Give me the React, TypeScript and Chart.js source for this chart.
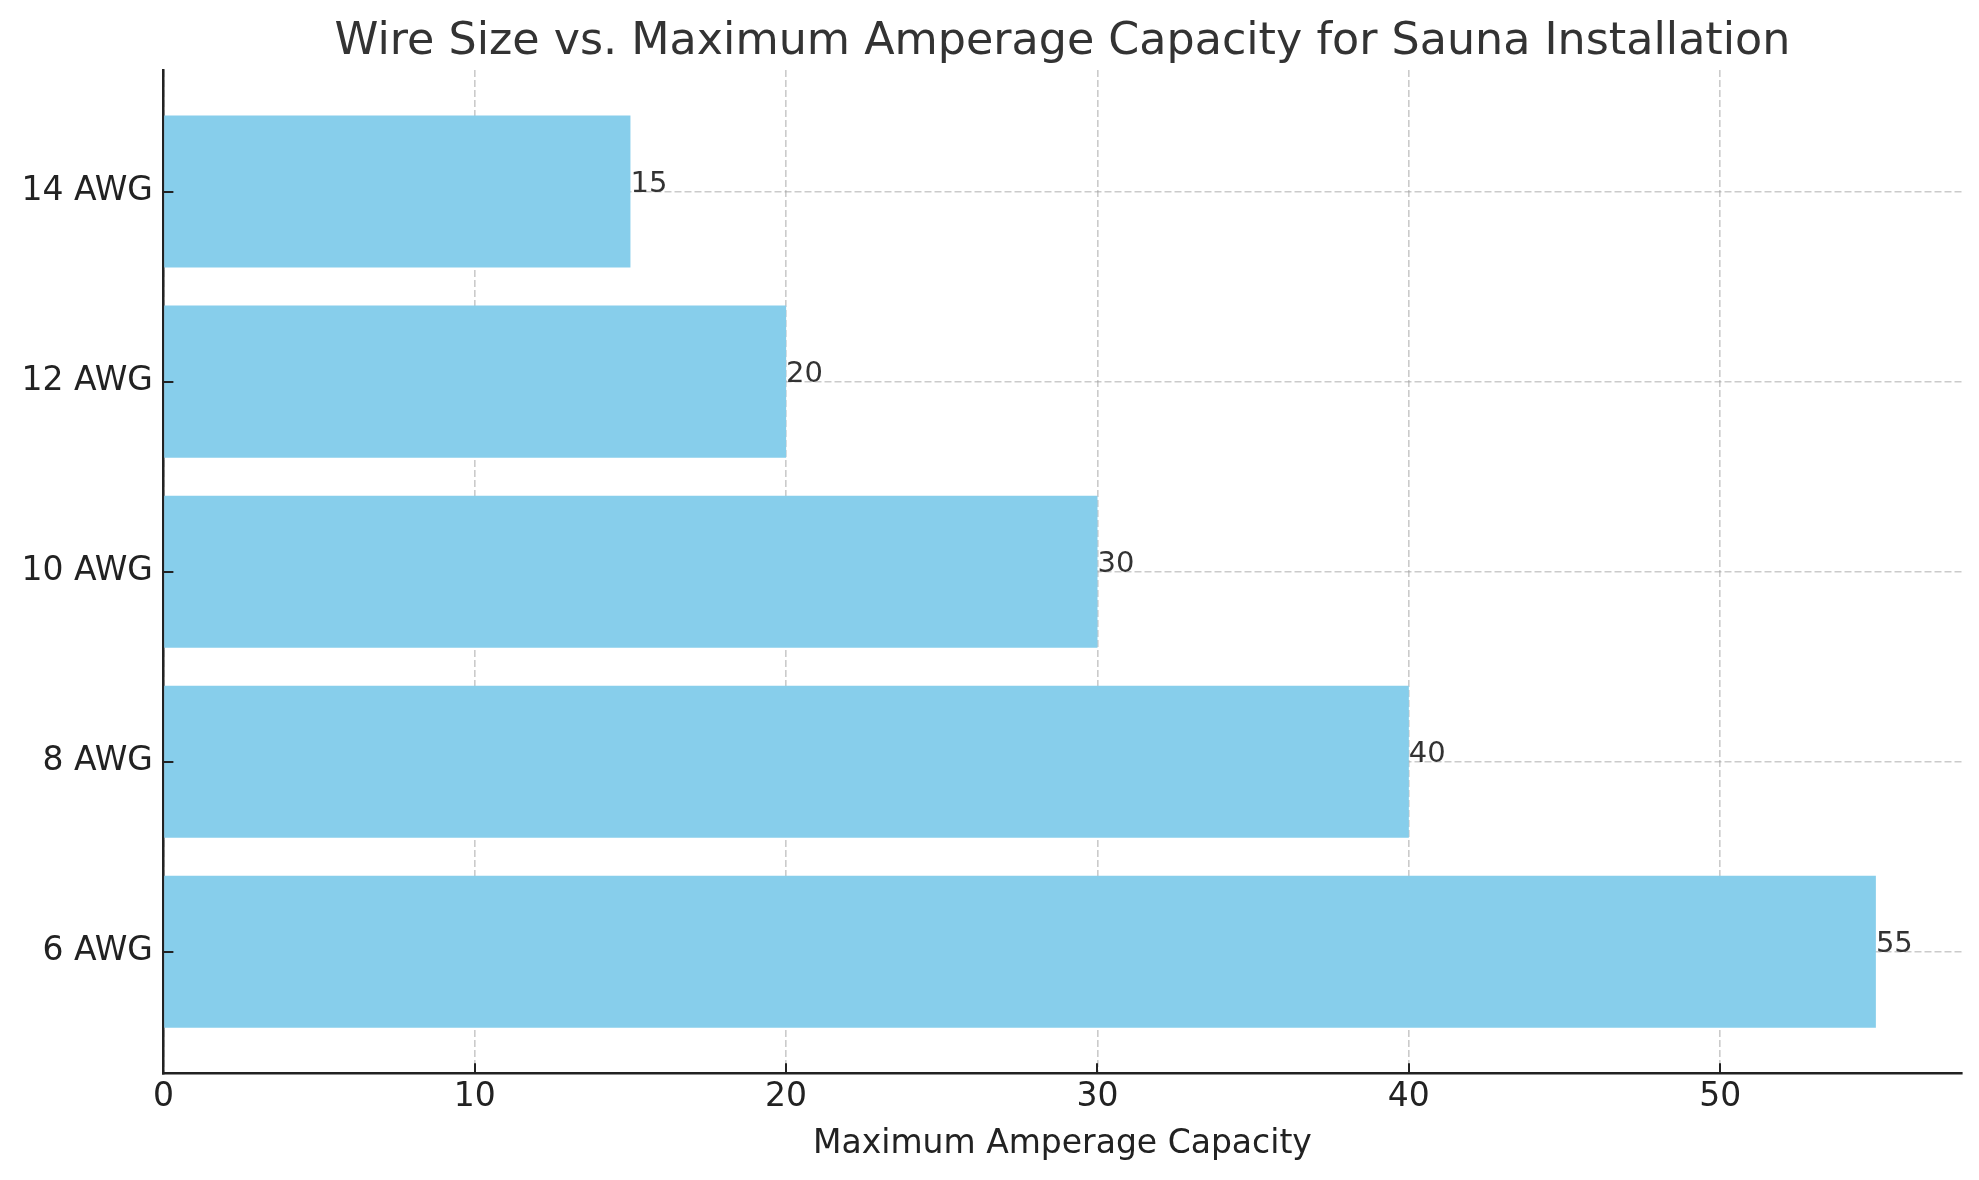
import React, { useEffect, useRef } from "react";
import { Chart, registerables } from "chart.js";

Chart.register(...registerables);

const wireSizes = ["6 AWG", "8 AWG", "10 AWG", "12 AWG", "14 AWG"];
const maxAmps = [55, 40, 30, 20, 15];
const xTickValues = [0, 10, 20, 30, 40, 50];
const chartTitle = "Wire Size vs. Maximum Amperage Capacity for Sauna Installation";
const xAxisTitle = "Maximum Amperage Capacity";

const FONT = "'DejaVu Sans', sans-serif";

export default function App() {
  const canvasRef = useRef<HTMLCanvasElement | null>(null);

  useEffect(() => {
    const canvas = canvasRef.current;
    if (!canvas) return;

    const overlay = {
      id: "overlay",
      afterDraw(chart: any) {
        const ctx = chart.ctx;
        const area = chart.chartArea;
        const xs = chart.scales.x;
        const ys = chart.scales.y;
        ctx.save();
        ctx.setLineDash([]);
        // inward tick marks
        ctx.strokeStyle = "#222222";
        ctx.lineWidth = 2;
        xTickValues.forEach((v) => {
          const px = Math.round(xs.getPixelForValue(v));
          ctx.beginPath();
          ctx.moveTo(px, area.bottom);
          ctx.lineTo(px, area.bottom - 10);
          ctx.stroke();
        });
        wireSizes.forEach((_, i) => {
          const py = Math.round(ys.getPixelForValue(i));
          ctx.beginPath();
          ctx.moveTo(area.left, py);
          ctx.lineTo(area.left + 10, py);
          ctx.stroke();
        });
        // value labels
        ctx.fillStyle = "#333333";
        ctx.font = `29px ${FONT}`;
        ctx.textAlign = "left";
        ctx.textBaseline = "alphabetic";
        maxAmps.forEach((v, i) => {
          const px = xs.getPixelForValue(v);
          const py = ys.getPixelForValue(i);
          ctx.fillText(String(v), px, py);
        });
        // title
        const cx = (area.left + area.right) / 2;
        ctx.fillStyle = "#333333";
        ctx.font = `44.4px ${FONT}`;
        ctx.textAlign = "center";
        ctx.fillText(chartTitle, cx, 54);
        // x axis title
        ctx.fillStyle = "#222222";
        ctx.font = `33px ${FONT}`;
        ctx.fillText(xAxisTitle, cx, 1153);
        ctx.restore();
      },
    };

    const gridCommon = {
      color: "rgba(160,160,160,0.55)",
      lineWidth: 1.6,
      drawTicks: false,
      offset: false,
    };

    const chart = new Chart(canvas, {
      type: "bar",
      data: {
        datasets: [
          {
            label: "Max Amps",
            data: maxAmps.map((v, i) => ({ x: v, y: i })),
            backgroundColor: "#87CEEB",
            borderWidth: 0,
            barPercentage: 0.8,
            categoryPercentage: 1.0,
          },
        ],
      },
      options: {
        indexAxis: "y",
        animation: false,
        responsive: false,
        devicePixelRatio: 1,
        layout: { padding: { top: 70, right: 17.5, bottom: 0, left: 0 } },
        plugins: {
          legend: { display: false },
          tooltip: { enabled: false },
          title: { display: false },
        },
        scales: {
          x: {
            type: "linear",
            position: "bottom",
            min: 0,
            max: 57.75,
            offset: false,
            z: 1,
            afterBuildTicks: (axis: any) => {
              axis.ticks = xTickValues.map((v) => ({ value: v }));
            },
            afterFit: (axis: any) => {
              axis.height = 106.7;
            },
            grid: { ...gridCommon },
            border: { display: true, color: "#222222", width: 2.5, dash: [7, 3] },
            ticks: {
              color: "#222222",
              font: { family: FONT, size: 33 },
              padding: 4,
              maxRotation: 0,
              autoSkip: false,
            },
          },
          y: {
            type: "linear",
            position: "left",
            min: -0.64,
            max: 4.64,
            offset: false,
            z: 1,
            afterBuildTicks: (axis: any) => {
              axis.ticks = wireSizes.map((_, i) => ({ value: i }));
            },
            afterFit: (axis: any) => {
              axis.width = 163.4;
            },
            grid: { ...gridCommon },
            border: { display: true, color: "#222222", width: 2.5, dash: [7, 3] },
            ticks: {
              color: "#222222",
              font: { family: FONT, size: 33 },
              padding: 10.5,
              autoSkip: false,
              callback: (value: any) => wireSizes[Math.round(Number(value))] ?? "",
            },
          },
        },
      },
      plugins: [overlay],
    } as any);

    return () => {
      chart.destroy();
    };
  }, []);

  return (
    <div style={{ position: "absolute", left: 0, top: 0, width: 1979, height: 1180, background: "#ffffff" }}>
      <canvas ref={canvasRef} width={1979} height={1180} style={{ width: 1979, height: 1180, display: "block" }} />
    </div>
  );
}
